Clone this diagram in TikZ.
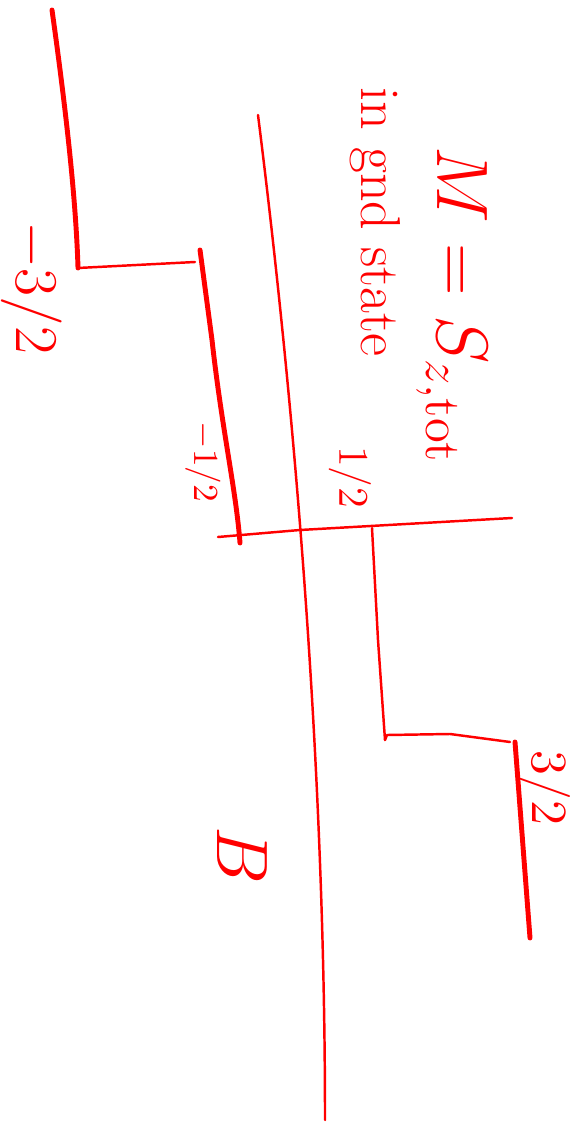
\documentclass[tikz,border=0pt]{standalone}
\usepackage{xcolor}
\usepackage{tikz}
\usetikzlibrary{positioning}
\definecolor{InkRed}{RGB}{255,0,0}

\begin{document}
\begin{tikzpicture}[
  x=0.01cm, y=-0.01cm,
  font=\sffamily,
  line cap=round, line join=round,
  ink/.style={draw=InkRed, line width=0.7pt},
  heavyink/.style={draw=InkRed, line width=1.4pt},
  lbl/.style={text=InkRed, rotate=-90, inner sep=0pt}
]
\useasboundingbox (0,0) rectangle (572,1125);

% ================ B axis (curved) ================
\coordinate (axTop) at (258,115);
\coordinate (axBot) at (325,1120);
\draw[ink] (axTop) .. controls (300,450) and (325,800) .. (axBot);

% ================ steps ================
\coordinate (s1top) at (52,10);
\coordinate (s1bot) at (78,268);
\coordinate (s1end) at (195,262);
\draw[heavyink] (s1top) .. controls (66,110) and (76,200) .. (s1bot);
\draw[ink] (s1bot) -- (s1end);

\coordinate (s2top) at (200,250);
\coordinate (s2bot) at (240,543);
\draw[heavyink] (s2top) -- (212,340) .. controls (222,430) and (236,490) .. (s2bot);

\coordinate (hL) at (218,537);
\coordinate (hR) at (512,518);
\draw[ink] (hL) -- (300,530) -- (hR);

\coordinate (s3top) at (372,528);
\coordinate (s3bot) at (385,740);
\coordinate (s3end) at (510,742);
\draw[ink] (s3top) -- (378,640) -- (s3bot);
\draw[ink] (s3bot) -- (387,735) -- (450,734) -- (s3end);

\coordinate (s4top) at (515,742);
\coordinate (s4bot) at (530,938);
\draw[heavyink] (s4top) -- (s4bot);

% ================ labels ================
\node[lbl, font=\fontsize{17}{19}\selectfont] (lm32) at (32,288) {$-3/2$};
\node[lbl, font=\fontsize{10}{12}\selectfont] (lm12) at (203,462) {$-1/2$};
\node[lbl, font=\fontsize{12}{14}\selectfont] (lp12) at (350,477) {$1/2$};
\node[lbl, font=\fontsize{14}{16}\selectfont] (lp32) at (545,788) {$3/2$};
\node[lbl, font=\fontsize{22}{24}\selectfont] (lB) at (242,855) {$B$};

\node[lbl, font=\fontsize{22}{24}\selectfont] (title) at (452,305)
  {$M = S_{z,\mathrm{tot}}$};
\node[lbl, font=\fontsize{16}{18}\selectfont] (subtitle) at (375,222)
  {in gnd state};
\end{tikzpicture}
\end{document}
